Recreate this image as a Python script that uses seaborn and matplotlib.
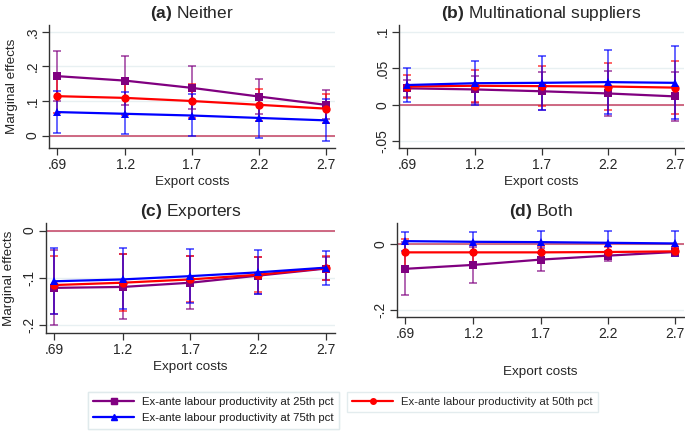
import numpy as np
import pandas as pd
import matplotlib
matplotlib.use("Agg")
import matplotlib.pyplot as plt
import seaborn as sns
from matplotlib.lines import Line2D

costs = [0.69, 1.2, 1.7, 2.2, 2.7]
cost_labels = [".69", "1.2", "1.7", "2.2", "2.7"]
series_names = ["Ex-ante labour productivity at 25th pct",
                "Ex-ante labour productivity at 50th pct",
                "Ex-ante labour productivity at 75th pct"]
panel_titles = ["(a)", "(b)", "(c)", "(d)"]
panel_names = ["Neither", "Multinational suppliers", "Exporters", "Both"]

# (a) Neither
a_p25 = [0.172, 0.159, 0.138, 0.113, 0.089]
a_p25_lo = [0.100, 0.089, 0.076, 0.063, 0.047]
a_p25_hi = [0.244, 0.229, 0.200, 0.163, 0.131]
a_p50 = [0.114, 0.109, 0.100, 0.089, 0.078]
a_p50_lo = [0.064, 0.059, 0.051, 0.042, 0.035]
a_p50_hi = [0.164, 0.159, 0.150, 0.136, 0.121]
a_p75 = [0.068, 0.063, 0.058, 0.051, 0.044]
a_p75_lo = [0.008, 0.004, -0.001, -0.008, -0.015]
a_p75_hi = [0.130, 0.126, 0.120, 0.113, 0.106]

# (b) Multinational suppliers
b_p25 = [0.0225, 0.021, 0.0185, 0.0155, 0.0115]
b_p25_lo = [0.0105, 0.002, -0.0075, -0.0155, -0.0215]
b_p25_hi = [0.0345, 0.040, 0.0445, 0.0465, 0.0445]
b_p50 = [0.025, 0.026, 0.0255, 0.025, 0.0235]
b_p50_lo = [0.0095, 0.0045, -0.0015, -0.0075, -0.013]
b_p50_hi = [0.0405, 0.0475, 0.0525, 0.0575, 0.060]
b_p75 = [0.027, 0.0295, 0.030, 0.031, 0.030]
b_p75_lo = [0.0045, -0.0005, -0.007, -0.013, -0.019]
b_p75_hi = [0.050, 0.0595, 0.067, 0.0745, 0.080]

# (c) Exporters
c_p25 = [-0.122, -0.120, -0.111, -0.096, -0.081]
c_p25_lo = [-0.202, -0.189, -0.167, -0.136, -0.105]
c_p25_hi = [-0.042, -0.051, -0.055, -0.056, -0.057]
c_p50 = [-0.116, -0.111, -0.104, -0.094, -0.080]
c_p50_lo = [-0.178, -0.171, -0.151, -0.131, -0.105]
c_p50_hi = [-0.054, -0.051, -0.055, -0.056, -0.055]
c_p75 = [-0.108, -0.104, -0.097, -0.089, -0.079]
c_p75_lo = [-0.177, -0.167, -0.154, -0.136, -0.116]
c_p75_hi = [-0.038, -0.038, -0.039, -0.041, -0.043]

# (d) Both
d_p25 = [-0.075, -0.063, -0.047, -0.035, -0.024]
d_p25_lo = [-0.155, -0.117, -0.081, -0.050, -0.036]
d_p25_hi = [0.005, -0.009, -0.013, -0.020, -0.012]
d_p50 = [-0.025, -0.025, -0.025, -0.024, -0.022]
d_p50_lo = [-0.065, -0.055, -0.045, -0.040, -0.035]
d_p50_hi = [0.015, 0.005, -0.005, -0.008, -0.009]
d_p75 = [0.009, 0.007, 0.006, 0.004, 0.002]
d_p75_lo = [-0.020, -0.024, -0.028, -0.033, -0.035]
d_p75_hi = [0.038, 0.038, 0.040, 0.041, 0.039]

panels = [
    [(a_p25, a_p25_lo, a_p25_hi), (a_p50, a_p50_lo, a_p50_hi), (a_p75, a_p75_lo, a_p75_hi)],
    [(b_p25, b_p25_lo, b_p25_hi), (b_p50, b_p50_lo, b_p50_hi), (b_p75, b_p75_lo, b_p75_hi)],
    [(c_p25, c_p25_lo, c_p25_hi), (c_p50, c_p50_lo, c_p50_hi), (c_p75, c_p75_lo, c_p75_hi)],
    [(d_p25, d_p25_lo, d_p25_hi), (d_p50, d_p50_lo, d_p50_hi), (d_p75, d_p75_lo, d_p75_hi)],
]

ylims = [(-0.036, 0.32), (-0.059, 0.109), (-0.218, 0.016), (-0.221, 0.064)]
yticks = [[0, 0.1, 0.2, 0.3], [-0.05, 0, 0.05, 0.1], [-0.2, -0.1, 0], [-0.2, 0]]
ytick_labels = [["0", ".1", ".2", ".3"], ["-.05", "0", ".05", ".1"],
                ["-.2", "-.1", "0"], ["-.2", "0"]]

colors = {series_names[0]: "#800080", series_names[1]: "#ff0000", series_names[2]: "#0000ff"}
markers = {series_names[0]: "s", series_names[1]: "o", series_names[2]: "^"}

sns.set_style("white")
plt.rcParams["font.family"] = ["Liberation Sans", "DejaVu Sans"]
plt.rcParams["mathtext.fontset"] = "custom"
plt.rcParams["mathtext.bf"] = "Liberation Sans:bold"
plt.rcParams["mathtext.rm"] = "Liberation Sans"

W, H = 685, 433
fig = plt.figure(figsize=(W / 100, H / 100), dpi=100)
fig.patch.set_facecolor("white")

# pixel boxes: left, top, right, bottom
boxes = [(49, 25, 335, 148), (399, 25, 684, 148), (46, 223, 335, 333), (397, 223, 684, 317)]
xlabelpads = [3, 3, 3, 18]

for i, (l, t, r, b) in enumerate(boxes):
    ax = fig.add_axes([l / W, (H - b) / H, (r - l) / W, (b - t) / H])
    rows = []
    for name, (me, lo, hi) in zip(series_names, panels[i]):
        for x, m, lw_, hv in zip(costs, me, lo, hi):
            rows.append({"cost": x, "me": m, "lo": lw_, "hi": hv, "series": name})
    df = pd.DataFrame(rows)
    ax.set_ylim(*ylims[i])
    ax.set_xlim(0.63, 2.77)
    for yt in yticks[i]:
        ax.axhline(yt, color="#e8f0f2", lw=1.0, zorder=0)
    ax.axhline(0, color="#c8506e", lw=1.2, zorder=1)
    for name in series_names:
        sub = df[df.series == name]
        ax.errorbar(sub.cost, sub.me, yerr=[sub.me - sub.lo, sub.hi - sub.me], fmt="none",
                    ecolor=colors[name], alpha=0.65, capsize=3.2, elinewidth=1.3,
                    capthick=1.3, zorder=2)
    sns.lineplot(data=df, x="cost", y="me", hue="series", style="series",
                 hue_order=series_names, style_order=series_names,
                 palette=colors, markers=markers, dashes=False, markersize=6,
                 markeredgewidth=0, linewidth=1.6, ax=ax, legend=False, zorder=3)
    ax.set_xticks(costs)
    ax.set_xticklabels(cost_labels)
    ax.set_yticks(yticks[i])
    ax.set_yticklabels(ytick_labels[i], rotation=90, va="center")
    ax.tick_params(axis="both", direction="out", length=5, width=0.9, color="#333333",
                   labelsize=10, pad=2, left=True, bottom=True)
    for s in ["top", "right"]:
        ax.spines[s].set_visible(False)
    for s in ["left", "bottom"]:
        ax.spines[s].set_color("#333333")
        ax.spines[s].set_linewidth(1.0)
    ax.set_xlabel("Export costs", fontsize=9.7, labelpad=xlabelpads[i])
    if i in (0, 2):
        ax.set_ylabel("Marginal effects", fontsize=9.7, labelpad=5)
    else:
        ax.set_ylabel("")
    ax.set_title(r"$\bf{" + panel_titles[i] + r"}$ " + panel_names[i], fontsize=12.5, pad=5)

h25 = Line2D([], [], color=colors[series_names[0]], marker="s", markersize=4, lw=1.6)
h50 = Line2D([], [], color=colors[series_names[1]], marker="o", markersize=4, lw=1.6)
h75 = Line2D([], [], color=colors[series_names[2]], marker="^", markersize=4, lw=1.6)

leg_kw = dict(fontsize=8.2, frameon=True, fancybox=False, edgecolor="#dde8ea",
              handlelength=3.6, borderpad=0.45, labelspacing=0.55, handletextpad=0.7,
              borderaxespad=0)
leg1 = fig.legend([h25, h75], [series_names[0], series_names[2]], loc="upper left",
                  bbox_to_anchor=(88 / W, (H - 392) / H), **leg_kw)
leg2 = fig.legend([h50], [series_names[1]], loc="upper left",
                  bbox_to_anchor=(347 / W, (H - 392) / H), **leg_kw)
fig.add_artist(leg1)

fig.savefig("out.png", dpi=100)
